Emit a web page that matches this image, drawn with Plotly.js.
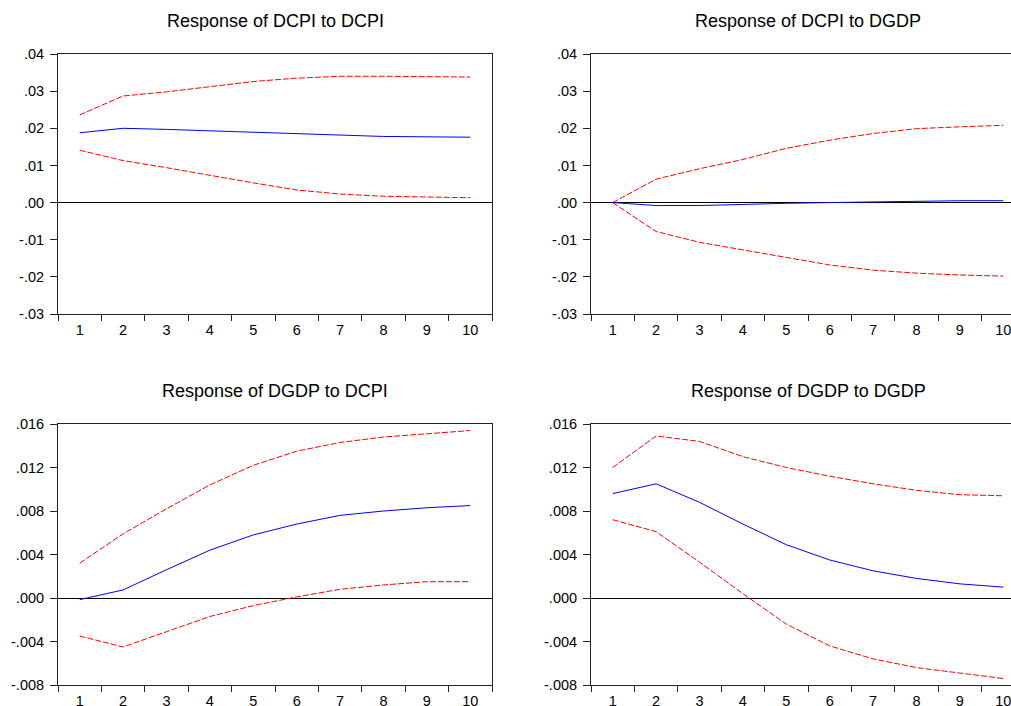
<!DOCTYPE html>
<html>
<head>
<meta charset="utf-8">
<script src="https://cdn.plot.ly/plotly-3.0.1.min.js"></script>
<style>
html,body{margin:0;padding:0;overflow:hidden;background:#fff;}
#chart{width:1030px;height:720px;}
</style>
</head>
<body>
<div id="chart"></div>
<script>
// Periods (categories)
const periods = ["1","2","3","4","5","6","7","8","9","10"];

// Panel titles
const titles = ["Response of DCPI to DCPI","Response of DCPI to DGDP","Response of DGDP to DCPI","Response of DGDP to DGDP"];

// Response of DCPI to DCPI
const cpiCpiResp  = [0.0188,0.0200,0.0197,0.0193,0.0188,0.0185,0.0182,0.0178,0.0177,0.0176];
const cpiCpiUpper = [0.0236,0.0287,0.0298,0.0312,0.0326,0.0335,0.0340,0.0340,0.0340,0.0338];
const cpiCpiLower = [0.0141,0.0113,0.0094,0.0073,0.0053,0.0034,0.0023,0.0017,0.0014,0.0013];

// Response of DCPI to DGDP
const cpiGdpResp  = [0.0000,-0.0008,-0.0008,-0.0004,-0.0002,0.0000,0.0002,0.0004,0.0005,0.0005];
const cpiGdpUpper = [0.0000,0.0063,0.0091,0.0116,0.0146,0.0168,0.0186,0.0199,0.0204,0.0208];
const cpiGdpLower = [0.0000,-0.0078,-0.0107,-0.0127,-0.0147,-0.0168,-0.0182,-0.0190,-0.0195,-0.0198];

// Response of DGDP to DCPI
const gdpCpiResp  = [-0.00015,0.00074,0.0026,0.0044,0.0058,0.0068,0.0076,0.0080,0.0083,0.0085];
const gdpCpiUpper = [0.0032,0.0059,0.0082,0.0104,0.0122,0.0135,0.0143,0.0148,0.0151,0.0154];
const gdpCpiLower = [-0.0035,-0.0045,-0.0031,-0.0017,-0.0007,0.0001,0.0008,0.0012,0.0015,0.0015];

// Response of DGDP to DGDP
const gdpGdpResp  = [0.0096,0.0105,0.0088,0.0068,0.0049,0.0035,0.0025,0.0018,0.0013,0.0010];
const gdpGdpUpper = [0.0120,0.0149,0.0144,0.0130,0.0120,0.0112,0.0105,0.0099,0.0095,0.0094];
const gdpGdpLower = [0.0072,0.0061,0.0033,0.0004,-0.0024,-0.0044,-0.0056,-0.0064,-0.0069,-0.0074];

// Y tick values / labels
const topTickVals = [-0.03,-0.02,-0.01,0,0.01,0.02,0.03,0.04];
const topTickText = ["-.03","-.02","-.01",".00",".01",".02",".03",".04"];
const botTickVals = [-0.008,-0.004,0,0.004,0.008,0.012,0.016];
const botTickText = ["-.008","-.004",".000",".004",".008",".012",".016"];

const W = 1030, H = 720;
const xDom = [[58/W, 492/W],[591/W, 1025/W]];
const yDom = [[(H-314)/H,(H-54)/H],[(H-685)/H,(H-424)/H]];

const panels = [
  {resp: cpiCpiResp, up: cpiCpiUpper, lo: cpiCpiLower, row:0, col:0},
  {resp: cpiGdpResp, up: cpiGdpUpper, lo: cpiGdpLower, row:0, col:1},
  {resp: gdpCpiResp, up: gdpCpiUpper, lo: gdpCpiLower, row:1, col:0},
  {resp: gdpGdpResp, up: gdpGdpUpper, lo: gdpGdpLower, row:1, col:1}
];

const data = [];
const layout = {
  width: W, height: H,
  margin: {l:0, r:0, t:0, b:0},
  paper_bgcolor: "#fff", plot_bgcolor: "#fff",
  showlegend: false,
  font: {family: "Liberation Sans, Arial, sans-serif", size: 14.5, color: "#000"},
  annotations: []
};

const tickFont = {family: "Liberation Sans, Arial, sans-serif", size: 14.5, color: "#000"};

panels.forEach((p, i) => {
  const n = i + 1;
  const xa = "x" + (n === 1 ? "" : n), ya = "y" + (n === 1 ? "" : n);
  data.push({x: periods, y: p.up, xaxis: xa, yaxis: ya, type: "scatter", mode: "lines",
    line: {color: "#ff0000", width: 1, dash: "6px,2px"}, hoverinfo: "skip"});
  data.push({x: periods, y: p.lo, xaxis: xa, yaxis: ya, type: "scatter", mode: "lines",
    line: {color: "#ff0000", width: 1, dash: "6px,2px"}, hoverinfo: "skip"});
  data.push({x: periods, y: p.resp, xaxis: xa, yaxis: ya, type: "scatter", mode: "lines",
    line: {color: "#0000ff", width: 1}, hoverinfo: "skip"});

  const top = p.row === 0;
  layout["xaxis" + (n === 1 ? "" : n)] = {
    domain: xDom[p.col], anchor: ya, type: "category",
    categoryorder: "array", categoryarray: periods,
    range: [-0.5, 9.5], fixedrange: true,
    showgrid: false, zeroline: false,
    showline: true, linecolor: "#222", linewidth: 1, mirror: true,
    ticks: "outside", tickson: "boundaries", ticklen: 6, tickcolor: "#222", tickwidth: 1,
    tickfont: tickFont, ticklabelstandoff: 3
  };
  layout["yaxis" + (n === 1 ? "" : n)] = {
    domain: yDom[p.row], anchor: xa,
    range: top ? [-0.03, 0.04] : [-0.008, 0.016], fixedrange: true,
    tickvals: top ? topTickVals : botTickVals,
    ticktext: top ? topTickText : botTickText,
    showgrid: false, zeroline: true, zerolinecolor: "#000", zerolinewidth: 1,
    showline: true, linecolor: "#222", linewidth: 1, mirror: true,
    ticks: "outside", ticklen: 7, tickcolor: "#222", tickwidth: 1,
    tickfont: tickFont, ticklabelstandoff: 3
  };
  layout.annotations.push({
    text: titles[i], xref: "paper", yref: "paper",
    x: (xDom[p.col][0] + xDom[p.col][1]) / 2,
    y: top ? (H - 21) / H : (H - 391) / H,
    xanchor: "center", yanchor: "middle", showarrow: false,
    font: {family: "Liberation Sans, Arial, sans-serif", size: 18, color: "#000"}
  });
});

Plotly.newPlot("chart", data, layout, {staticPlot: true, displayModeBar: false});
</script>
</body>
</html>
